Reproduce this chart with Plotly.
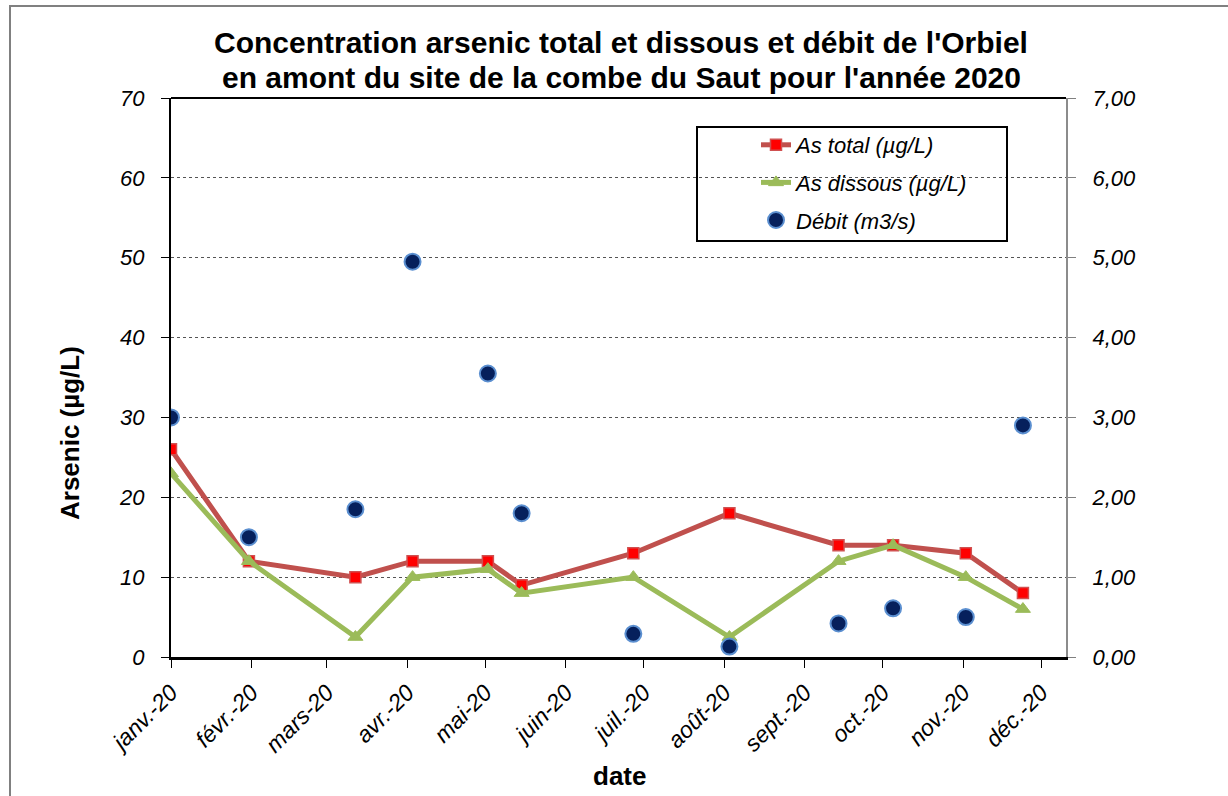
import plotly.graph_objects as go

# ---- data ----
dates = ["2020-01-01", "2020-01-31", "2020-03-12", "2020-04-03", "2020-05-02", "2020-05-15",
         "2020-06-27", "2020-08-03", "2020-09-14", "2020-10-05", "2020-11-02", "2020-11-24"]
as_total = [26, 12, 10, 12, 12, 9, 13, 18, 14, 14, 13, 8]
as_dissous = [23, 12, 2.5, 10, 11, 8, 10, 2.5, 12, 14, 10, 6]
debit = [3.00, 1.50, 1.85, 4.95, 3.55, 1.80, 0.29, 0.13, 0.42, 0.61, 0.50, 2.90]

tick_dates = ["2020-01-01", "2020-02-01", "2020-03-01", "2020-04-01", "2020-05-01", "2020-06-01",
              "2020-07-01", "2020-08-01", "2020-09-01", "2020-10-01", "2020-11-01", "2020-12-01"]
tick_labels = ["janv.-20", "févr.-20", "mars-20", "avr.-20", "mai-20", "juin-20",
               "juil.-20", "août-20", "sept.-20", "oct.-20", "nov.-20", "déc.-20"]

title_lines = ["Concentration arsenic total et dissous et débit de l'Orbiel",
               "en amont du site de la combe du Saut pour l'année 2020"]

FONT = "Liberation Sans, Arial, sans-serif"
W, H = 1228, 796
# plot area in screenshot pixel coordinates
L, R, T, B = 171, 1066, 98, 657
PW, PH = R - L, B - T


def px(x):
    return (x - L) / PW


def py(y):
    return (B - y) / PH


fig = go.Figure()
fig.add_trace(go.Scatter(
    x=dates, y=as_total, name="As total (µg/L)", mode="lines+markers",
    line=dict(color="#c0504d", width=5),
    marker=dict(symbol="square", size=11, color="#ff0000", line=dict(color="#d05050", width=1.5)),
    legendgroup="a", yaxis="y"))
fig.add_trace(go.Scatter(
    x=dates, y=as_dissous, name="As dissous (µg/L)", mode="lines+markers",
    line=dict(color="#9bbb59", width=5),
    marker=dict(symbol="triangle-up", size=13, color="#9bbb59", line=dict(color="#9bbb59", width=1)),
    legendgroup="b", yaxis="y"))
fig.add_trace(go.Scatter(
    x=dates, y=debit, name="Débit (m3/s)", mode="markers",
    marker=dict(symbol="circle", size=16, color="#06205c", line=dict(color="#5b8fd0", width=2)),
    legendgroup="c", yaxis="y2"))

fig.update_layout(
    width=W, height=H,
    margin=dict(l=L, r=W - R, t=T, b=H - B, autoexpand=False),
    paper_bgcolor="white", plot_bgcolor="white",
    separators=", ",
    showlegend=True,
    xaxis=dict(
        type="date", range=["2020-01-01", "2020-12-10 14:00"],
        tickvals=tick_dates, ticktext=tick_labels, tickangle=-45,
        tickfont=dict(family=FONT, size=23, color="black", style="italic"),
        ticks="outside", ticklen=8, tickcolor="black", tickwidth=1,
        showline=True, linecolor="black", linewidth=3,
        showgrid=False, zeroline=False, ticklabelstandoff=2),
    yaxis=dict(
        range=[0, 70], dtick=10, tickformat="d",
        tickfont=dict(family=FONT, size=22, color="black", style="italic"),
        ticks="outside", ticklen=8, tickcolor="black", tickwidth=1,
        showline=True, linecolor="black", linewidth=2,
        showgrid=True, gridcolor="#555555", gridwidth=1, griddash="dot",
        zeroline=False, ticklabelstandoff=12),
    yaxis2=dict(
        overlaying="y", side="right", range=[0, 7], dtick=1, tickformat=".2f",
        tickfont=dict(family=FONT, size=22, color="black", style="italic"),
        ticks="outside", ticklen=8, tickcolor="#808080", tickwidth=1,
        showline=True, linecolor="#8c8c8c", linewidth=2,
        showgrid=False, zeroline=False, ticklabelstandoff=12),
    legend=dict(
        x=px(756), y=py(124), xanchor="left", yanchor="top",
        bgcolor="rgba(0,0,0,0)", borderwidth=0,
        font=dict(family=FONT, size=22, color="black", style="italic"),
        traceorder="grouped", tracegroupgap=6, itemwidth=30),
)

for line_text, yc in zip(title_lines, [42, 77]):
    fig.add_annotation(text=line_text, xref="paper", yref="paper",
                       x=px(621), y=py(yc), xanchor="center", yanchor="middle", showarrow=False,
                       font=dict(family=FONT, size=30, color="black", weight="bold"))

fig.add_annotation(text="Arsenic (µg/L)", textangle=-90, xref="paper", yref="paper",
                   x=px(70), y=py(433), xanchor="center", yanchor="middle", showarrow=False,
                   font=dict(family=FONT, size=26, color="black", weight="bold"))
fig.add_annotation(text="date", xref="paper", yref="paper",
                   x=px(619), y=py(776), xanchor="center", yanchor="middle", showarrow=False,
                   font=dict(family=FONT, size=26, color="black", weight="bold"))

# top border of plot area
fig.add_shape(type="line", xref="paper", yref="paper", x0=0, x1=1, y0=1, y1=1,
              line=dict(color="black", width=2))
# legend box
fig.add_shape(type="rect", xref="paper", yref="paper", x0=px(697), x1=px(1007), y0=py(127), y1=py(241),
              line=dict(color="black", width=2), fillcolor="rgba(255,255,255,0)", layer="above")
# outer chart border
fig.add_shape(type="rect", xref="paper", yref="paper", x0=px(10), x1=px(1245), y0=py(6), y1=py(820),
              line=dict(color="#808080", width=2), fillcolor="rgba(0,0,0,0)")

# remove the default page margin so that the figure starts at the window's corner
fig.write_html("out.html", config={"displayModeBar": False},
               post_script="document.body.style.margin='0';")
